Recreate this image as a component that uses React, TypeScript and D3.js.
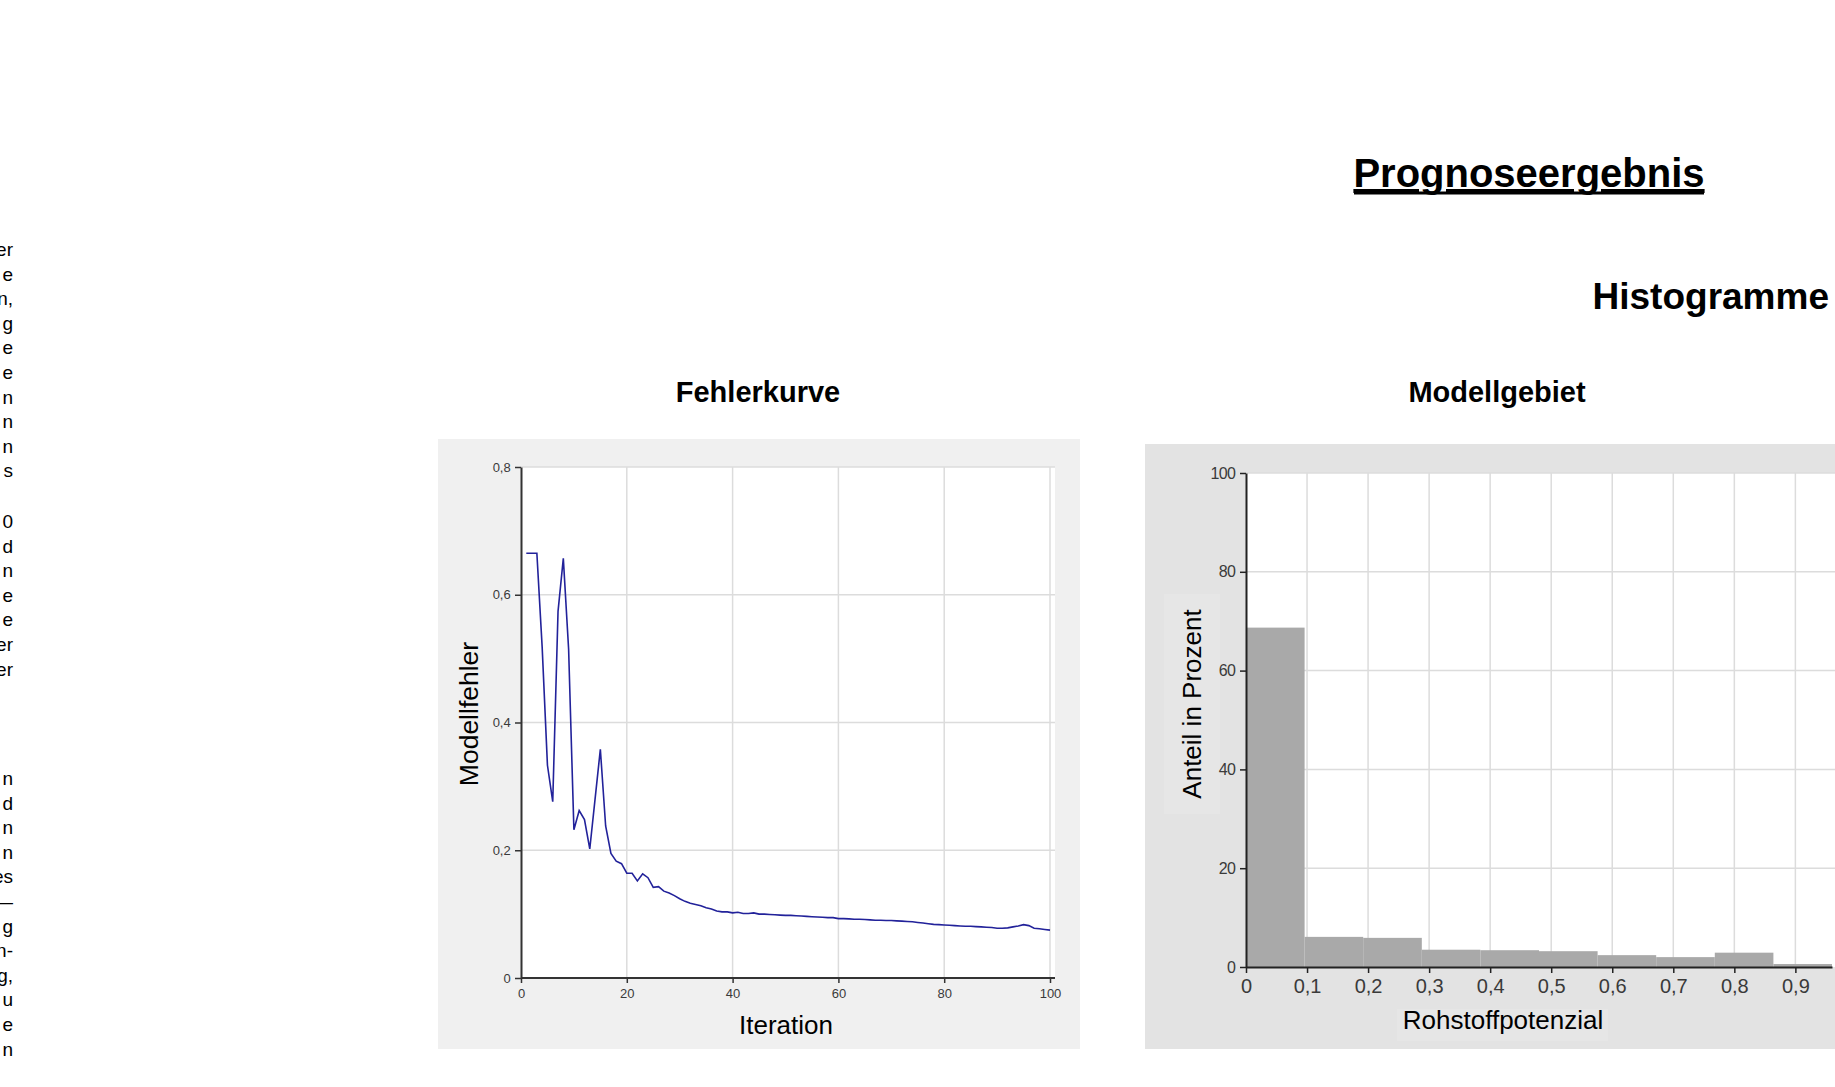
import { useEffect, useRef } from "react";
import * as d3 from "d3";

// Fehlerkurve: Modellfehler je Iteration (1..100)
const iterations = d3.range(1, 101);
const modelError = [
  0.665, 0.665, 0.665, 0.518, 0.333, 0.276, 0.574, 0.657, 0.515, 0.232,
  0.262, 0.248, 0.202, 0.28, 0.358, 0.238, 0.195, 0.183, 0.179, 0.164,
  0.164, 0.152, 0.163, 0.157, 0.142, 0.143, 0.136, 0.133, 0.129, 0.124,
  0.12, 0.117, 0.115, 0.113, 0.11, 0.108, 0.105, 0.1035, 0.1035, 0.102,
  0.103, 0.101, 0.101, 0.102, 0.1, 0.1, 0.0995, 0.099, 0.0985, 0.098,
  0.098, 0.0975, 0.097, 0.0965, 0.096, 0.0955, 0.095, 0.0945, 0.0945, 0.093,
  0.093, 0.0925, 0.092, 0.092, 0.0915, 0.091, 0.0905, 0.0905, 0.09, 0.09,
  0.0895, 0.089, 0.0885, 0.088, 0.087, 0.086, 0.085, 0.084, 0.0835, 0.083,
  0.0825, 0.082, 0.0815, 0.081, 0.081, 0.0805, 0.08, 0.0795, 0.079, 0.078,
  0.078, 0.0785, 0.08, 0.0815, 0.0835, 0.082, 0.078, 0.077, 0.076, 0.075,
];
const errXTicks = [0, 20, 40, 60, 80, 100];
const errYTicks = [0, 0.2, 0.4, 0.6, 0.8];

// Histogramm Modellgebiet
const binWidth = 0.096;
const binShares = [68.7, 6.1, 5.9, 3.5, 3.4, 3.2, 2.4, 2.0, 2.9, 0.6];
const histXTicks = [0, 0.1, 0.2, 0.3, 0.4, 0.5, 0.6, 0.7, 0.8, 0.9];
const histYTicks = [0, 20, 40, 60, 80, 100];

// abgeschnittener Text am linken Rand
const clipBlocks = [
  ["er", "e", "n,", "g", "e", "e", "n", "n", "n", "s"],
  ["0", "d", "n", "e", "e", "er", "er"],
  ["n", "d", "n", "n", "es", "—", "g", "n-", "g,", "u", "e", "n"],
];
const clipStarts = [249, 521, 778];

const fmt = (d: number) => String(d).replace(".", ",");
const FONT = "Arial, 'Liberation Sans', sans-serif";

export default function App() {
  const ref = useRef<SVGSVGElement>(null);

  useEffect(() => {
    const svg = d3.select(ref.current);
    svg.selectAll("*").remove();

    // ####################### Hintergrund-Panels #######################
    svg.append("rect").attr("x", 438).attr("y", 439).attr("width", 642).attr("height", 610).attr("fill", "#f0f0f0");
    svg.append("rect").attr("x", 1145).attr("y", 444).attr("width", 690).attr("height", 605).attr("fill", "#e3e3e3");
    svg.append("rect").attr("x", 1164).attr("y", 594).attr("width", 56).attr("height", 220).attr("fill", "#e6e6e6");
    svg.append("rect").attr("x", 1397).attr("y", 1009).attr("width", 211).attr("height", 32).attr("fill", "#e6e6e6");

    // ####################### Fehlerkurve #######################
    const x1 = d3.scaleLinear().domain([0, 100]).range([521, 1050]);
    const y1 = d3.scaleLinear().domain([0, 0.8]).range([978, 467]);
    const g1 = svg.append("g");
    g1.append("rect").attr("x", 521).attr("y", 467).attr("width", 534).attr("height", 511).attr("fill", "#fff");
    errXTicks.slice(1).forEach((t) =>
      g1.append("line").attr("x1", x1(t)).attr("x2", x1(t)).attr("y1", 467).attr("y2", 978)
        .attr("stroke", "#dcdcdc").attr("stroke-width", 1.5)
    );
    errYTicks.slice(1).forEach((t) =>
      g1.append("line").attr("x1", 521).attr("x2", 1055).attr("y1", y1(t)).attr("y2", y1(t))
        .attr("stroke", "#dcdcdc").attr("stroke-width", 1.5)
    );
    const line = d3.line<number>().x((d, i) => x1(iterations[i])).y((d) => y1(d));
    g1.append("path").datum(modelError).attr("d", line).attr("fill", "none")
      .attr("stroke", "#22229a").attr("stroke-width", 1.6);

    const ax1 = g1.append("g").attr("transform", "translate(0,978)")
      .call(d3.axisBottom(x1).tickValues(errXTicks).tickFormat((d) => fmt(+d)).tickSize(5).tickSizeOuter(0));
    const ay1 = g1.append("g").attr("transform", "translate(521,0)")
      .call(d3.axisLeft(y1).tickValues(errYTicks).tickFormat((d) => fmt(+d)).tickSize(6).tickSizeOuter(0));
    ax1.select(".domain").attr("d", "M521,0H1055");
    [ax1, ay1].forEach((a) => {
      a.selectAll(".domain").attr("stroke", "#333").attr("stroke-width", 2);
      a.selectAll(".tick line").attr("stroke", "#333").attr("stroke-width", 1.5);
      a.selectAll(".tick text").attr("fill", "#3a3a3a").attr("font-size", 13).attr("font-family", FONT);
    });
    ax1.selectAll(".tick text").attr("dy", "0.9em");
    ay1.selectAll(".tick text").attr("dx", "-0.1em");

    g1.append("text").attr("transform", "translate(478,714) rotate(-90)").attr("text-anchor", "middle")
      .attr("font-size", 26.5).attr("font-family", FONT).attr("fill", "#000").text("Modellfehler");
    g1.append("text").attr("x", 786).attr("y", 1034).attr("text-anchor", "middle")
      .attr("font-size", 26).attr("font-family", FONT).attr("fill", "#000").text("Iteration");

    // ####################### Histogramm #######################
    const x2 = d3.scaleLinear().domain([0, 0.96]).range([1246, 1832]);
    const y2 = d3.scaleLinear().domain([0, 100]).range([967, 473]);
    const g2 = svg.append("g");
    g2.append("rect").attr("x", 1246).attr("y", 473).attr("width", 589).attr("height", 494).attr("fill", "#fff");
    histXTicks.slice(1).forEach((t) =>
      g2.append("line").attr("x1", x2(t)).attr("x2", x2(t)).attr("y1", 473).attr("y2", 967)
        .attr("stroke", "#dcdcdc").attr("stroke-width", 1.5)
    );
    histYTicks.slice(1).forEach((t) =>
      g2.append("line").attr("x1", 1246).attr("x2", 1835).attr("y1", y2(t)).attr("y2", y2(t))
        .attr("stroke", "#dcdcdc").attr("stroke-width", 1.5)
    );
    g2.selectAll(".bar").data(binShares).enter().append("rect").attr("class", "bar")
      .attr("x", (d, i) => x2(i * binWidth))
      .attr("width", (d, i) => x2((i + 1) * binWidth) - x2(i * binWidth))
      .attr("y", (d) => y2(d))
      .attr("height", (d) => y2(0) - y2(d))
      .attr("fill", "#a9a9a9");

    const ax2 = g2.append("g").attr("transform", "translate(0,967)")
      .call(d3.axisBottom(x2).tickValues(histXTicks).tickFormat((d) => fmt(+d)).tickSize(6).tickSizeOuter(0));
    const ay2 = g2.append("g").attr("transform", "translate(1246,0)")
      .call(d3.axisLeft(y2).tickValues(histYTicks).tickFormat((d) => fmt(+d)).tickSize(6).tickSizeOuter(0));
    [ax2, ay2].forEach((a) => {
      a.selectAll(".domain").attr("stroke", "#222").attr("stroke-width", 2);
      a.selectAll(".tick line").attr("stroke", "#222").attr("stroke-width", 1.5);
      a.selectAll(".tick text").attr("fill", "#3a3a3a").attr("font-family", FONT);
    });
    ax2.selectAll(".tick text").attr("font-size", 20).attr("dy", "0.85em");
    ay2.selectAll(".tick text").attr("font-size", 16).attr("dx", "-0.1em").attr("letter-spacing", -0.6);

    g2.append("text").attr("transform", "translate(1201,704) rotate(-90)").attr("text-anchor", "middle")
      .attr("font-size", 26).attr("font-family", FONT).attr("fill", "#000").text("Anteil in Prozent");
    g2.append("text").attr("x", 1503).attr("y", 1029).attr("text-anchor", "middle")
      .attr("font-size", 26).attr("font-family", FONT).attr("fill", "#000").text("Rohstoffpotenzial");

    // ####################### Titel #######################
    svg.append("text").attr("x", 758).attr("y", 402).attr("text-anchor", "middle").attr("font-weight", "bold")
      .attr("font-size", 29).attr("font-family", FONT).text("Fehlerkurve");
    svg.append("text").attr("x", 1497).attr("y", 402).attr("text-anchor", "middle").attr("font-weight", "bold")
      .attr("font-size", 29).attr("font-family", FONT).text("Modellgebiet");
    svg.append("text").attr("x", 1529).attr("y", 187).attr("text-anchor", "middle").attr("font-weight", "bold")
      .attr("font-size", 40).attr("font-family", FONT).attr("text-decoration", "underline").text("Prognoseergebnis");
    svg.append("line").attr("x1", 1354).attr("x2", 1704).attr("y1", 193).attr("y2", 193)
      .attr("stroke", "#000").attr("stroke-width", 3);
    svg.append("text").attr("x", 1829).attr("y", 309).attr("text-anchor", "end").attr("font-weight", "bold")
      .attr("font-size", 37).attr("font-family", FONT).text("Histogramme");

    // ####################### Textrest links #######################
    clipBlocks.forEach((block, b) =>
      block.forEach((s, i) =>
        svg.append("text").attr("x", 13).attr("y", clipStarts[b] + i * 24.6 + 7).attr("text-anchor", "end")
          .attr("font-size", 19).attr("font-family", FONT).text(s)
      )
    );
  }, []);

  return (
    <svg ref={ref} width={1835} height={1087} style={{ position: "absolute", left: 0, top: 0, background: "#fff" }} />
  );
}
